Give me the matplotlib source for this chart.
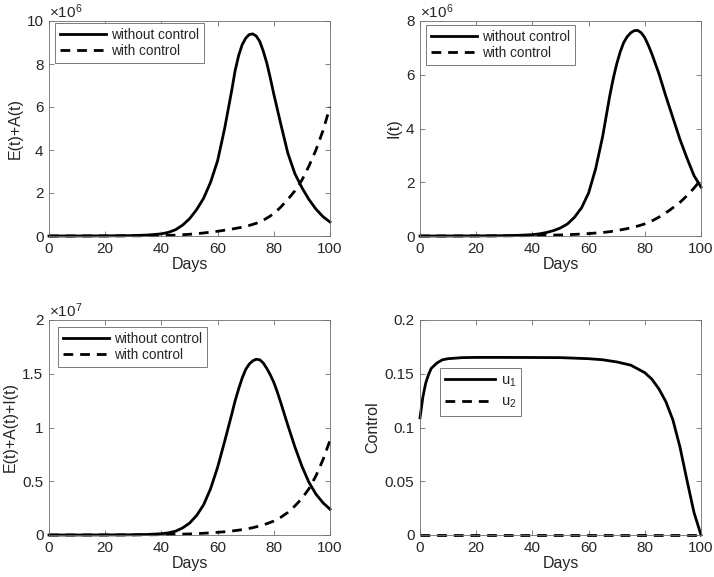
import matplotlib
matplotlib.use("Agg")
import matplotlib.pyplot as plt
from matplotlib.ticker import FuncFormatter

plt.rcParams['font.family'] = ['Liberation Sans', 'DejaVu Sans']
plt.rcParams['mathtext.fontset'] = 'custom'
plt.rcParams['mathtext.rm'] = 'Liberation Sans'
plt.rcParams['mathtext.it'] = 'Liberation Sans'

# Days for the epidemic curves
days = [0, 10, 20, 30, 35, 40, 42.5, 45, 47.5, 50, 52.5, 55, 57.5, 60, 62.5,
        65, 66.25, 67.5, 68.75, 70, 71.25, 72.5, 73.75, 75, 76.25, 77.5, 78.75, 80, 81.25, 82.5,
        85, 87.5, 90, 92.5, 95, 97.5, 100]

# E(t)+A(t), units of 1e6
ea_without = [0, 0.002, 0.006, 0.02, 0.045, 0.1, 0.17, 0.29, 0.5, 0.8, 1.22, 1.75, 2.5, 3.5, 5.0,
              6.75, 7.7, 8.4, 8.9, 9.2, 9.37, 9.4, 9.3, 9.05, 8.6, 8.05, 7.35, 6.6, 5.9, 5.2,
              3.85, 2.9, 2.25, 1.7, 1.25, 0.9, 0.65]
ea_with = [0, 0.001, 0.003, 0.008, 0.013, 0.02, 0.03, 0.04, 0.06, 0.08, 0.11, 0.14, 0.18, 0.22, 0.27,
           0.32, 0.35, 0.38, 0.41, 0.45, 0.49, 0.54, 0.59, 0.65, 0.73, 0.83, 0.93, 1.05, 1.19, 1.35,
           1.7, 2.1, 2.6, 3.25, 4.0, 4.9, 6.0]

# I(t), units of 1e6
i_without = [0, 0.001, 0.004, 0.012, 0.025, 0.05, 0.08, 0.13, 0.2, 0.3, 0.45, 0.7, 1.05, 1.6, 2.5,
             3.7, 4.45, 5.2, 5.85, 6.4, 6.85, 7.2, 7.42, 7.56, 7.64, 7.65, 7.56, 7.38, 7.1, 6.78,
             6.05, 5.2, 4.4, 3.6, 2.9, 2.25, 1.82]
i_with = [0, 0.001, 0.003, 0.006, 0.01, 0.015, 0.02, 0.025, 0.032, 0.04, 0.05, 0.06, 0.075, 0.09, 0.11,
          0.13, 0.145, 0.16, 0.18, 0.2, 0.225, 0.25, 0.275, 0.3, 0.335, 0.37, 0.41, 0.45, 0.5, 0.56,
          0.7, 0.86, 1.05, 1.25, 1.5, 1.78, 2.1]

# E(t)+A(t)+I(t), units of 1e7
eai_without = [0, 0.0002, 0.0008, 0.002, 0.005, 0.012, 0.02, 0.035, 0.065, 0.11, 0.18, 0.28, 0.43, 0.63, 0.87,
               1.12, 1.25, 1.36, 1.46, 1.54, 1.59, 1.62, 1.635, 1.63, 1.6, 1.55, 1.49, 1.42, 1.33, 1.23,
               1.02, 0.82, 0.64, 0.49, 0.38, 0.3, 0.24]
eai_with = [0, 0.0002, 0.0005, 0.001, 0.002, 0.003, 0.004, 0.006, 0.008, 0.01, 0.013, 0.016, 0.02, 0.025, 0.03,
            0.037, 0.041, 0.045, 0.05, 0.055, 0.061, 0.068, 0.076, 0.085, 0.095, 0.105, 0.117, 0.13, 0.147, 0.165,
            0.21, 0.27, 0.34, 0.43, 0.55, 0.7, 0.88]

# Controls
days_u = [0, 1, 2, 3, 4, 6, 8, 10, 15, 20, 30, 40, 50, 55, 60, 65, 70, 75, 80, 82.5,
          85, 87.5, 90, 92.5, 95, 97.5, 100]
u1 = [0.109, 0.128, 0.141, 0.149, 0.155, 0.160, 0.163, 0.164, 0.165, 0.1652, 0.1652,
      0.1651, 0.165, 0.1645, 0.164, 0.163, 0.161, 0.158, 0.151, 0.145, 0.136, 0.124,
      0.107, 0.082, 0.051, 0.021, 0.0]
days_u2 = [0, 100]
u2 = [0, 0]

W, H = 714, 577
fig = plt.figure(figsize=(W / 100, H / 100), dpi=100)

TXT = '#262626'
EDGE = '#6e6e6e'


def make_axes(x0, y0, x1, y1):
    return fig.add_axes([x0 / W, 1 - y1 / H, (x1 - x0) / W, (y1 - y0) / H])


def style(ax, ymax, yticks, ylabel, scale=None):
    ax.set_xlim(0, 100)
    ax.set_ylim(0, ymax)
    ax.set_xticks([0, 20, 40, 60, 80, 100])
    ax.set_yticks(yticks)
    ax.yaxis.set_major_formatter(FuncFormatter(lambda v, p: '%g' % v))
    ax.tick_params(direction='in', top=True, right=True, length=3.5, width=0.6,
                   color=EDGE, labelcolor=TXT, labelsize=11, pad=4)
    for s in ax.spines.values():
        s.set_color(EDGE)
        s.set_linewidth(0.6)
    ax.set_xlabel('Days', fontsize=11.5, color=TXT, labelpad=1)
    ax.set_ylabel(ylabel, fontsize=11.5, color=TXT, labelpad=3)
    if scale is not None:
        ax.text(0.0, 1.0, r'$\times$10$^{%d}$' % scale, transform=ax.transAxes,
                fontsize=11, color=TXT, ha='left', va='bottom')


def add_legend(ax, labels, x, y, fs=9.8, spacing=0.15):
    leg = ax.legend(labels, loc='upper left', bbox_to_anchor=(x / W, 1 - y / H),
                    bbox_transform=fig.transFigure, fontsize=fs, frameon=True,
                    fancybox=False, framealpha=1, edgecolor='#7a7a7a',
                    handlelength=3.4, handletextpad=0.4, borderpad=0.35,
                    labelspacing=spacing, borderaxespad=0)
    leg.get_frame().set_linewidth(0.7)
    for t in leg.get_texts():
        t.set_color(TXT)


lw = 2.0
dash = (0, (3.5, 2.5))

ax1 = make_axes(49, 21, 330, 236)
ax1.plot(days, ea_without, color='black', lw=lw, clip_on=False)
ax1.plot(days, ea_with, color='black', lw=lw, linestyle=dash, clip_on=False)
style(ax1, 10, [0, 2, 4, 6, 8, 10], 'E(t)+A(t)', 6)
add_legend(ax1, ['without control', 'with control'], 55, 23)

ax2 = make_axes(420, 21, 701, 236)
ax2.plot(days, i_without, color='black', lw=lw, clip_on=False)
ax2.plot(days, i_with, color='black', lw=lw, linestyle=dash, clip_on=False)
style(ax2, 8, [0, 2, 4, 6, 8], 'I(t)', 6)
add_legend(ax2, ['without control', 'with control'], 426, 25)

ax3 = make_axes(49, 320, 330, 535)
ax3.plot(days, eai_without, color='black', lw=lw, clip_on=False)
ax3.plot(days, eai_with, color='black', lw=lw, linestyle=dash, clip_on=False)
style(ax3, 2, [0, 0.5, 1, 1.5, 2], 'E(t)+A(t)+I(t)', 7)
add_legend(ax3, ['without control', 'with control'], 58, 327)

ax4 = make_axes(420, 320, 701, 535)
ax4.plot(days_u, u1, color='black', lw=lw, clip_on=False)
ax4.plot(days_u2, u2, color='black', lw=lw, linestyle=dash, clip_on=False)
style(ax4, 0.2, [0, 0.05, 0.1, 0.15, 0.2], 'Control')
add_legend(ax4, ['u$_1$', 'u$_2$'], 440, 368, fs=10.5, spacing=0.45)

fig.savefig('out.png', dpi=100)
